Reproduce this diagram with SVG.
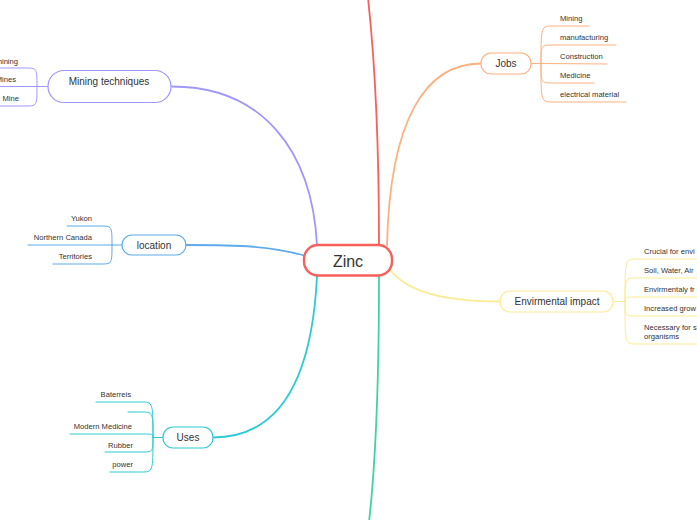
<svg xmlns="http://www.w3.org/2000/svg" width="697" height="520" viewBox="0 0 697 520">
<style>
text{font-family:"Liberation Sans",Arial,sans-serif;fill:#333}
.main{font-size:10px;text-anchor:middle}
.sub{font-size:7.6px}
.end{text-anchor:end}
.c{fill:none;stroke-linecap:round}
.m{stroke-width:1.8}
.s{stroke-width:1}
.red{stroke:#f8605c}.pur{stroke:#a097fb}.ora{stroke:#fdb17f}.yel{stroke:#fbec93}.blu{stroke:#5eaaea}.cya{stroke:#2ccad6}.grn{stroke:#3fd3a2}
.node{fill:#fff;stroke-width:1.2}
</style>
<rect width="697" height="520" fill="#fff"/>
<g id="connectors">
<path class="c m red" d="M379,245 C379,150 375,62 368,-2"/>
<path class="c m grn" d="M379,276 C379,380 376,460 369,522"/>
<path class="c m pur" d="M317,245 C312,150 262,86.5 172,86.5"/>
<path class="c m ora" d="M387,245 C390,120 425,63.5 481,63.5"/>
<path class="c m blu" d="M186,245 C240,245 272,246 306,256"/>
<path class="c m cya" d="M317,276 C312,380 280,437.5 213,437.5"/>
<path class="c m yel" d="M389,268 C405,292 445,301.5 500,301.5"/>
<!-- Jobs children -->
<g class="c s ora">
<path d="M531,63.5 L541,63.5"/>
<path d="M541,63.5 C541,26 541,26 553,26 L589,26"/>
<path d="M541,63.5 C541,45 541,45 553,45 L616,45"/>
<path d="M541,63.5 L607,64"/>
<path d="M541,63.5 C541,83 541,83 553,83 L594,83"/>
<path d="M541,63.5 C541,102 541,102 553,102 L626,102"/>
</g>
<!-- Mining techniques children -->
<g class="c s pur">
<path d="M48,86.5 L-2,86.5"/>
<path d="M37,86.5 C37,68 37,68 25,68 L-2,68"/>
<path d="M37,86.5 C37,106 37,106 25,106 L-2,106"/>
</g>
<!-- location children -->
<g class="c s blu">
<path d="M122,245 L28,245"/>
<path d="M112,245 C112,226 112,226 100,226 L67,226"/>
<path d="M112,245 C112,264 112,264 100,264 L53,264"/>
</g>
<!-- Uses children -->
<g class="c s cya">
<path d="M163,437.5 L153,437.5"/>
<path d="M153,437.5 C153,402 153,402 141,402 L96,402"/>
<path d="M153,437.5 C153,412 153,412 141,412 L128,412"/>
<path d="M153,437.5 C153,434 153,434 141,434 L70,434"/>
<path d="M153,437.5 C153,452 153,452 141,452 L105,452"/>
<path d="M153,437.5 C153,472 153,472 141,472 L110,472"/>
</g>
<!-- Env children -->
<g class="c s yel">
<path d="M613,301.5 L625,301.5"/>
<path d="M625,301.5 C625,259 625,259 637,259 L700,259"/>
<path d="M625,301.5 C625,278 625,278 637,278 L700,278"/>
<path d="M625,301.5 C625,297 625,297 637,297 L700,297"/>
<path d="M625,301.5 C625,316 625,316 637,316 L700,316"/>
<path d="M625,301.5 C625,344 625,344 637,344 L700,344"/>
</g>
</g>
<g id="zinc">
<rect x="304" y="245" width="88" height="30.5" rx="14" fill="#fff" stroke="#f8605c" stroke-width="2.4"/>
<text x="348" y="267" style="font-size:16px;text-anchor:middle">Zinc</text>
</g>
<g id="jobs">
<rect class="node ora" x="481" y="53" width="50" height="21" rx="10"/>
<text class="main" x="506" y="67">Jobs</text>
</g>
<g id="jobs-children">
<text class="sub" x="560" y="21">Mining</text>
<text class="sub" x="560" y="40">manufacturing</text>
<text class="sub" x="560" y="59">Construction</text>
<text class="sub" x="560" y="78">Medicine</text>
<text class="sub" x="560" y="97">electrical material</text>
</g>
<g id="mining-techniques">
<rect class="node pur" x="48" y="70.5" width="123" height="32" rx="16"/>
<text class="main" x="109" y="85">Mining techniques</text>
</g>
<g id="mining-children">
<text class="sub end" x="18" y="63.5">mining</text>
<text class="sub end" x="16" y="82">Mines</text>
<text class="sub end" x="19" y="101">Mine</text>
</g>
<g id="location">
<rect class="node blu" x="122" y="235" width="64" height="20" rx="10"/>
<text class="main" x="154" y="248.5">location</text>
</g>
<g id="location-children">
<text class="sub end" x="92" y="221">Yukon</text>
<text class="sub end" x="92" y="240">Northern Canada</text>
<text class="sub end" x="92" y="259">Territories</text>
</g>
<g id="uses">
<rect class="node cya" x="163" y="427" width="50" height="21" rx="10"/>
<text class="main" x="188" y="441">Uses</text>
</g>
<g id="uses-children">
<text class="sub end" x="131" y="397">Baterreis</text>
<text class="sub end" x="132" y="429">Modern Medicine</text>
<text class="sub end" x="133" y="447.5">Rubber</text>
<text class="sub end" x="133" y="467">power</text>
</g>
<g id="envirmental-impact">
<rect class="node yel" x="500" y="291" width="113" height="21" rx="10"/>
<text class="main" x="557" y="305">Envirmental impact</text>
</g>
<g id="env-children">
<text class="sub" x="644" y="254">Crucial for envi</text>
<text class="sub" x="644" y="273">Soil, Water, Air</text>
<text class="sub" x="644" y="292">Envirmentaly fr</text>
<text class="sub" x="644" y="311">Increased grow</text>
<text class="sub" x="644" y="330">Necessary for s</text>
<text class="sub" x="644" y="339">organisms</text>
</g>
</svg>
